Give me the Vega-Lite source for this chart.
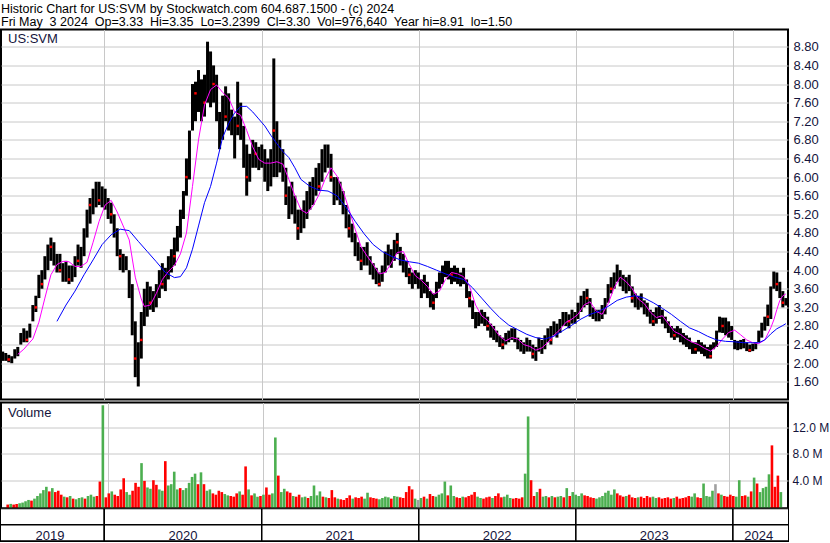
{
"$schema":"https://vega.github.io/schema/vega-lite/v6.json",
"autosize":{"type":"pad"},
"padding":{"top":2.5,"left":0,"right":0,"bottom":0},
"background":"white",
"title":{"text":["Historic Chart for US:SVM by Stockwatch.com 604.687.1500 - (c) 2024","Fri May\u00a0 3 2024\u00a0 Op=3.33\u00a0 Hi=3.35\u00a0 Lo=3.2399\u00a0 Cl=3.30\u00a0 Vol=976,640\u00a0 Year hi=8.91\u00a0 lo=1.50"],"anchor":"start","font":"Liberation Sans","fontSize":12.5,"fontWeight":"normal","color":"black","lineHeight":13.3,"offset":-0.5,"dx":1},
"datasets":{
"px":[
{"d":"2019-05-10","l":2.05,"h":2.25,"v":0.3,"s":"r"},
{"d":"2019-05-17","l":2.05,"h":2.22,"v":0.4,"s":"g"},
{"d":"2019-05-24","l":2.02,"h":2.18,"v":0.3,"s":"r","r":2.08},
{"d":"2019-05-31","l":2.00,"h":2.15,"v":0.4,"s":"r"},
{"d":"2019-06-07","l":2.10,"h":2.30,"v":0.5,"s":"g"},
{"d":"2019-06-14","l":2.15,"h":2.35,"v":0.6,"s":"g"},
{"d":"2019-06-21","l":2.40,"h":2.65,"v":0.8,"s":"g"},
{"d":"2019-06-28","l":2.45,"h":2.75,"v":1.0,"s":"g"},
{"d":"2019-07-05","l":2.45,"h":2.70,"v":0.9,"s":"r","r":2.5},
{"d":"2019-07-12","l":2.55,"h":2.85,"v":1.2,"s":"g"},
{"d":"2019-07-19","l":2.90,"h":3.25,"v":1.6,"s":"g"},
{"d":"2019-07-26","l":3.10,"h":3.45,"v":2.0,"s":"g","r":3.2},
{"d":"2019-08-02","l":3.40,"h":3.90,"v":2.5,"s":"g"},
{"d":"2019-08-09","l":3.60,"h":4.00,"v":3.0,"s":"g","r":3.7},
{"d":"2019-08-16","l":3.80,"h":4.30,"v":2.3,"s":"r"},
{"d":"2019-08-23","l":4.00,"h":4.55,"v":2.8,"s":"g"},
{"d":"2019-08-30","l":4.20,"h":4.70,"v":2.2,"s":"r","r":4.5},
{"d":"2019-09-06","l":4.10,"h":4.60,"v":2.4,"s":"r"},
{"d":"2019-09-13","l":3.95,"h":4.35,"v":1.8,"s":"r"},
{"d":"2019-09-20","l":3.95,"h":4.35,"v":1.5,"s":"g","r":4.0},
{"d":"2019-09-27","l":3.75,"h":4.15,"v":1.4,"s":"r"},
{"d":"2019-10-04","l":3.75,"h":4.20,"v":1.6,"s":"g"},
{"d":"2019-10-11","l":3.70,"h":4.10,"v":1.2,"s":"r","r":3.8},
{"d":"2019-10-18","l":3.75,"h":4.10,"v":1.1,"s":"g"},
{"d":"2019-10-25","l":3.85,"h":4.30,"v":1.3,"s":"g"},
{"d":"2019-11-01","l":4.10,"h":4.55,"v":1.4,"s":"g","r":4.2},
{"d":"2019-11-08","l":4.05,"h":4.50,"v":1.2,"s":"r"},
{"d":"2019-11-15","l":4.30,"h":4.90,"v":1.6,"s":"g"},
{"d":"2019-11-22","l":4.70,"h":5.30,"v":1.8,"s":"g"},
{"d":"2019-11-29","l":5.00,"h":5.55,"v":1.5,"s":"g","r":5.4},
{"d":"2019-12-06","l":5.20,"h":5.75,"v":1.6,"s":"r"},
{"d":"2019-12-13","l":5.35,"h":5.90,"v":3.8,"s":"r"},
{"d":"2019-12-20","l":5.40,"h":5.90,"v":15.4,"s":"g","r":5.5},
{"d":"2019-12-27","l":5.35,"h":5.80,"v":1.4,"s":"r"},
{"d":"2020-01-03","l":5.30,"h":5.75,"v":2.0,"s":"r"},
{"d":"2020-01-10","l":5.10,"h":5.55,"v":2.3,"s":"g"},
{"d":"2020-01-17","l":5.00,"h":5.45,"v":1.8,"s":"r","r":5.2},
{"d":"2020-01-24","l":4.70,"h":5.20,"v":1.6,"s":"r"},
{"d":"2020-01-31","l":4.30,"h":4.90,"v":2.6,"s":"r"},
{"d":"2020-02-07","l":4.00,"h":4.45,"v":4.3,"s":"r","r":4.3},
{"d":"2020-02-14","l":3.95,"h":4.35,"v":2.2,"s":"g"},
{"d":"2020-02-21","l":4.00,"h":4.30,"v":1.8,"s":"g"},
{"d":"2020-02-28","l":3.40,"h":4.00,"v":2.4,"s":"r"},
{"d":"2020-03-06","l":2.60,"h":3.70,"v":3.6,"s":"r"},
{"d":"2020-03-13","l":1.70,"h":2.90,"v":3.0,"s":"r","r":2.1},
{"d":"2020-03-20","l":1.50,"h":2.45,"v":6.6,"s":"g"},
{"d":"2020-03-27","l":2.10,"h":3.10,"v":3.9,"s":"r","r":2.5},
{"d":"2020-04-03","l":2.80,"h":3.60,"v":2.9,"s":"g"},
{"d":"2020-04-10","l":3.00,"h":3.75,"v":2.7,"s":"g"},
{"d":"2020-04-17","l":3.15,"h":3.65,"v":4.0,"s":"r","r":3.3},
{"d":"2020-04-24","l":3.10,"h":3.55,"v":3.3,"s":"r"},
{"d":"2020-05-01","l":3.20,"h":3.70,"v":2.6,"s":"g"},
{"d":"2020-05-08","l":3.40,"h":4.00,"v":2.4,"s":"g"},
{"d":"2020-05-15","l":3.60,"h":4.15,"v":6.9,"s":"r","r":3.7},
{"d":"2020-05-22","l":3.55,"h":4.05,"v":3.2,"s":"g"},
{"d":"2020-05-29","l":3.80,"h":4.30,"v":3.4,"s":"g"},
{"d":"2020-06-05","l":3.95,"h":4.45,"v":5.3,"s":"g"},
{"d":"2020-06-12","l":4.10,"h":4.70,"v":2.6,"s":"g","r":4.3},
{"d":"2020-06-19","l":4.40,"h":4.95,"v":2.8,"s":"r"},
{"d":"2020-06-26","l":4.70,"h":5.30,"v":2.5,"s":"g"},
{"d":"2020-07-03","l":5.10,"h":5.70,"v":2.8,"s":"g"},
{"d":"2020-07-10","l":5.60,"h":6.40,"v":3.6,"s":"g","r":6.0},
{"d":"2020-07-17","l":5.95,"h":7.00,"v":4.5,"s":"g"},
{"d":"2020-07-24","l":7.00,"h":8.00,"v":5.0,"s":"g"},
{"d":"2020-07-31","l":7.20,"h":8.05,"v":3.4,"s":"r","r":7.8},
{"d":"2020-08-07","l":7.40,"h":8.30,"v":5.2,"s":"g"},
{"d":"2020-08-14","l":7.20,"h":8.10,"v":3.4,"s":"r"},
{"d":"2020-08-21","l":7.30,"h":8.20,"v":2.4,"s":"g","r":7.6},
{"d":"2020-08-28","l":7.60,"h":8.91,"v":2.6,"s":"g"},
{"d":"2020-09-04","l":7.50,"h":8.70,"v":2.0,"s":"r"},
{"d":"2020-09-11","l":7.60,"h":8.40,"v":1.8,"s":"r","r":8.0},
{"d":"2020-09-18","l":7.20,"h":8.20,"v":2.4,"s":"r"},
{"d":"2020-09-25","l":6.60,"h":7.40,"v":2.2,"s":"r"},
{"d":"2020-10-02","l":6.80,"h":7.75,"v":1.9,"s":"g"},
{"d":"2020-10-09","l":7.20,"h":7.95,"v":1.7,"s":"g","r":7.3},
{"d":"2020-10-16","l":7.00,"h":7.80,"v":1.6,"s":"r"},
{"d":"2020-10-23","l":6.90,"h":7.45,"v":1.5,"s":"r"},
{"d":"2020-10-30","l":6.40,"h":7.30,"v":2.0,"s":"r"},
{"d":"2020-11-06","l":6.90,"h":8.05,"v":2.3,"s":"g","r":7.1},
{"d":"2020-11-13","l":6.80,"h":7.60,"v":1.8,"s":"r"},
{"d":"2020-11-20","l":6.20,"h":7.10,"v":6.1,"s":"r"},
{"d":"2020-11-27","l":5.60,"h":6.70,"v":2.6,"s":"g","r":6.0},
{"d":"2020-12-04","l":5.90,"h":6.50,"v":1.7,"s":"r"},
{"d":"2020-12-11","l":6.20,"h":6.80,"v":2.0,"s":"g"},
{"d":"2020-12-18","l":6.20,"h":6.75,"v":1.5,"s":"g","r":6.5},
{"d":"2020-12-25","l":6.15,"h":6.65,"v":1.6,"s":"r"},
{"d":"2021-01-01","l":6.20,"h":6.70,"v":1.8,"s":"g"},
{"d":"2021-01-08","l":5.90,"h":6.60,"v":2.9,"s":"r"},
{"d":"2021-01-15","l":5.70,"h":6.40,"v":1.8,"s":"r"},
{"d":"2021-01-22","l":5.80,"h":6.60,"v":2.0,"s":"g"},
{"d":"2021-01-29","l":6.00,"h":8.55,"v":10.5,"s":"g","r":7.0},
{"d":"2021-02-05","l":6.00,"h":7.20,"v":4.7,"s":"r"},
{"d":"2021-02-12","l":6.10,"h":6.80,"v":2.2,"s":"g"},
{"d":"2021-02-19","l":5.90,"h":6.60,"v":2.7,"s":"g"},
{"d":"2021-02-26","l":5.40,"h":6.20,"v":2.3,"s":"r","r":5.6},
{"d":"2021-03-05","l":5.10,"h":5.80,"v":2.1,"s":"r"},
{"d":"2021-03-12","l":5.20,"h":5.90,"v":1.6,"s":"g"},
{"d":"2021-03-19","l":5.00,"h":5.60,"v":1.5,"s":"r"},
{"d":"2021-03-26","l":4.65,"h":5.30,"v":1.8,"s":"r","r":4.9},
{"d":"2021-04-02","l":4.80,"h":5.30,"v":1.4,"s":"g"},
{"d":"2021-04-09","l":4.90,"h":5.50,"v":1.5,"s":"g"},
{"d":"2021-04-16","l":5.10,"h":5.70,"v":1.3,"s":"r"},
{"d":"2021-04-23","l":5.30,"h":5.90,"v":1.6,"s":"g"},
{"d":"2021-04-30","l":5.40,"h":6.00,"v":3.2,"s":"g"},
{"d":"2021-05-07","l":5.60,"h":6.20,"v":1.7,"s":"g"},
{"d":"2021-05-14","l":5.70,"h":6.30,"v":2.3,"s":"g","r":5.8},
{"d":"2021-05-21","l":5.90,"h":6.60,"v":1.5,"s":"r"},
{"d":"2021-05-28","l":6.10,"h":6.70,"v":1.4,"s":"g"},
{"d":"2021-06-04","l":6.20,"h":6.70,"v":1.3,"s":"r"},
{"d":"2021-06-11","l":5.90,"h":6.50,"v":2.5,"s":"r","r":6.0},
{"d":"2021-06-18","l":5.40,"h":6.00,"v":1.4,"s":"r"},
{"d":"2021-06-25","l":5.50,"h":6.00,"v":1.2,"s":"g"},
{"d":"2021-07-02","l":5.40,"h":5.90,"v":1.1,"s":"r"},
{"d":"2021-07-09","l":5.20,"h":5.70,"v":1.0,"s":"r"},
{"d":"2021-07-16","l":4.90,"h":5.40,"v":1.3,"s":"r"},
{"d":"2021-07-23","l":4.70,"h":5.20,"v":1.7,"s":"r","r":4.9},
{"d":"2021-07-30","l":4.60,"h":5.00,"v":1.2,"s":"g"},
{"d":"2021-08-06","l":4.30,"h":4.80,"v":1.4,"s":"r"},
{"d":"2021-08-13","l":4.20,"h":4.60,"v":1.3,"s":"r"},
{"d":"2021-08-20","l":4.00,"h":4.50,"v":1.5,"s":"r","r":4.2},
{"d":"2021-08-27","l":4.10,"h":4.50,"v":1.2,"s":"g"},
{"d":"2021-09-03","l":4.10,"h":4.60,"v":2.1,"s":"g"},
{"d":"2021-09-10","l":3.90,"h":4.30,"v":1.4,"s":"r"},
{"d":"2021-09-17","l":3.80,"h":4.15,"v":1.3,"s":"r"},
{"d":"2021-09-24","l":3.70,"h":4.05,"v":1.2,"s":"r"},
{"d":"2021-10-01","l":3.65,"h":3.95,"v":1.1,"s":"g","r":3.7},
{"d":"2021-10-08","l":3.75,"h":4.10,"v":1.3,"s":"g"},
{"d":"2021-10-15","l":3.95,"h":4.40,"v":1.5,"s":"g"},
{"d":"2021-10-22","l":4.10,"h":4.55,"v":1.4,"s":"g"},
{"d":"2021-10-29","l":4.05,"h":4.45,"v":1.2,"s":"r"},
{"d":"2021-11-05","l":4.20,"h":4.65,"v":1.6,"s":"g"},
{"d":"2021-11-12","l":4.35,"h":4.80,"v":1.5,"s":"g","r":4.6},
{"d":"2021-11-19","l":4.10,"h":4.50,"v":1.4,"s":"r"},
{"d":"2021-11-26","l":3.95,"h":4.35,"v":1.3,"s":"r"},
{"d":"2021-12-03","l":3.85,"h":4.20,"v":2.2,"s":"r"},
{"d":"2021-12-10","l":3.70,"h":4.05,"v":3.1,"s":"r","r":3.9},
{"d":"2021-12-17","l":3.60,"h":3.95,"v":2.6,"s":"r"},
{"d":"2021-12-24","l":3.70,"h":4.00,"v":1.2,"s":"g"},
{"d":"2021-12-31","l":3.60,"h":3.95,"v":1.0,"s":"n"},
{"d":"2022-01-07","l":3.40,"h":3.80,"v":1.3,"s":"g"},
{"d":"2022-01-14","l":3.50,"h":3.90,"v":1.5,"s":"r"},
{"d":"2022-01-21","l":3.40,"h":3.75,"v":1.2,"s":"g"},
{"d":"2022-01-28","l":3.20,"h":3.55,"v":1.9,"s":"r"},
{"d":"2022-02-04","l":3.15,"h":3.50,"v":1.6,"s":"r","r":3.3},
{"d":"2022-02-11","l":3.40,"h":3.75,"v":1.5,"s":"g"},
{"d":"2022-02-18","l":3.60,"h":3.95,"v":1.8,"s":"g"},
{"d":"2022-02-25","l":3.70,"h":4.10,"v":2.0,"s":"g"},
{"d":"2022-03-04","l":3.85,"h":4.20,"v":3.8,"s":"g"},
{"d":"2022-03-11","l":3.80,"h":4.20,"v":1.7,"s":"r"},
{"d":"2022-03-18","l":3.70,"h":4.05,"v":3.2,"s":"g","r":3.9},
{"d":"2022-03-25","l":3.75,"h":4.10,"v":1.6,"s":"g"},
{"d":"2022-04-01","l":3.70,"h":4.05,"v":1.4,"s":"r"},
{"d":"2022-04-08","l":3.65,"h":3.95,"v":1.3,"s":"r"},
{"d":"2022-04-15","l":3.70,"h":4.05,"v":1.5,"s":"g"},
{"d":"2022-04-22","l":3.40,"h":3.80,"v":1.4,"s":"r"},
{"d":"2022-04-29","l":3.20,"h":3.55,"v":1.6,"s":"r","r":3.4},
{"d":"2022-05-06","l":2.95,"h":3.35,"v":1.8,"s":"r"},
{"d":"2022-05-13","l":2.75,"h":3.10,"v":2.2,"s":"r"},
{"d":"2022-05-20","l":2.80,"h":3.10,"v":1.5,"s":"g"},
{"d":"2022-05-27","l":2.85,"h":3.15,"v":1.3,"s":"g"},
{"d":"2022-06-03","l":2.80,"h":3.10,"v":1.2,"s":"r"},
{"d":"2022-06-10","l":2.70,"h":3.00,"v":1.4,"s":"r","r":2.8},
{"d":"2022-06-17","l":2.55,"h":2.85,"v":1.5,"s":"r"},
{"d":"2022-06-24","l":2.50,"h":2.80,"v":1.3,"s":"g"},
{"d":"2022-07-01","l":2.45,"h":2.70,"v":1.6,"s":"r"},
{"d":"2022-07-08","l":2.35,"h":2.60,"v":2.0,"s":"r"},
{"d":"2022-07-15","l":2.30,"h":2.55,"v":1.4,"s":"r","r":2.4},
{"d":"2022-07-22","l":2.40,"h":2.65,"v":1.5,"s":"g"},
{"d":"2022-07-29","l":2.45,"h":2.70,"v":1.8,"s":"g"},
{"d":"2022-08-05","l":2.50,"h":2.75,"v":1.3,"s":"g"},
{"d":"2022-08-12","l":2.45,"h":2.75,"v":1.2,"s":"r"},
{"d":"2022-08-19","l":2.30,"h":2.55,"v":1.3,"s":"r"},
{"d":"2022-08-26","l":2.25,"h":2.50,"v":1.2,"s":"r"},
{"d":"2022-09-02","l":2.20,"h":2.45,"v":1.4,"s":"r"},
{"d":"2022-09-09","l":2.25,"h":2.55,"v":5.0,"s":"g"},
{"d":"2022-09-16","l":2.25,"h":2.50,"v":13.7,"s":"g"},
{"d":"2022-09-23","l":2.10,"h":2.40,"v":4.0,"s":"r","r":2.2},
{"d":"2022-09-30","l":2.05,"h":2.35,"v":1.6,"s":"r"},
{"d":"2022-10-07","l":2.25,"h":2.55,"v":2.2,"s":"g"},
{"d":"2022-10-14","l":2.20,"h":2.50,"v":2.7,"s":"r"},
{"d":"2022-10-21","l":2.30,"h":2.60,"v":1.5,"s":"g"},
{"d":"2022-10-28","l":2.45,"h":2.75,"v":1.6,"s":"g"},
{"d":"2022-11-04","l":2.40,"h":2.80,"v":1.4,"s":"r","r":2.5},
{"d":"2022-11-11","l":2.60,"h":2.90,"v":1.6,"s":"g"},
{"d":"2022-11-18","l":2.55,"h":2.85,"v":1.4,"s":"r"},
{"d":"2022-11-25","l":2.65,"h":2.95,"v":1.5,"s":"g"},
{"d":"2022-12-02","l":2.80,"h":3.10,"v":1.6,"s":"g"},
{"d":"2022-12-09","l":2.80,"h":3.10,"v":1.4,"s":"r"},
{"d":"2022-12-16","l":2.75,"h":3.05,"v":2.8,"s":"g","r":2.9},
{"d":"2022-12-23","l":2.85,"h":3.15,"v":1.6,"s":"r"},
{"d":"2022-12-30","l":2.85,"h":3.10,"v":2.2,"s":"g"},
{"d":"2023-01-06","l":2.95,"h":3.30,"v":1.8,"s":"g"},
{"d":"2023-01-13","l":3.10,"h":3.45,"v":1.6,"s":"g"},
{"d":"2023-01-20","l":3.20,"h":3.55,"v":2.0,"s":"g"},
{"d":"2023-01-27","l":3.25,"h":3.60,"v":1.7,"s":"r","r":3.4},
{"d":"2023-02-03","l":3.00,"h":3.40,"v":1.6,"s":"r"},
{"d":"2023-02-10","l":2.95,"h":3.20,"v":1.4,"s":"r"},
{"d":"2023-02-17","l":2.90,"h":3.15,"v":1.3,"s":"r"},
{"d":"2023-02-24","l":2.90,"h":3.15,"v":1.2,"s":"g"},
{"d":"2023-03-03","l":2.95,"h":3.25,"v":1.4,"s":"g"},
{"d":"2023-03-10","l":3.05,"h":3.40,"v":1.6,"s":"g"},
{"d":"2023-03-17","l":3.30,"h":3.70,"v":2.1,"s":"g"},
{"d":"2023-03-24","l":3.50,"h":3.85,"v":2.4,"s":"g","r":3.6},
{"d":"2023-03-31","l":3.60,"h":3.95,"v":1.8,"s":"g"},
{"d":"2023-04-07","l":3.75,"h":4.12,"v":2.6,"s":"g"},
{"d":"2023-04-14","l":3.65,"h":4.00,"v":2.0,"s":"r"},
{"d":"2023-04-21","l":3.55,"h":3.90,"v":1.7,"s":"r"},
{"d":"2023-04-28","l":3.50,"h":3.85,"v":1.5,"s":"r"},
{"d":"2023-05-05","l":3.55,"h":3.90,"v":1.6,"s":"g"},
{"d":"2023-05-12","l":3.30,"h":3.65,"v":1.8,"s":"r","r":3.4},
{"d":"2023-05-19","l":3.20,"h":3.50,"v":1.4,"s":"r"},
{"d":"2023-05-26","l":3.15,"h":3.45,"v":1.3,"s":"r"},
{"d":"2023-06-02","l":3.20,"h":3.50,"v":1.4,"s":"g"},
{"d":"2023-06-09","l":3.05,"h":3.35,"v":1.5,"s":"r"},
{"d":"2023-06-16","l":3.00,"h":3.30,"v":1.3,"s":"r"},
{"d":"2023-06-23","l":2.85,"h":3.15,"v":1.6,"s":"r"},
{"d":"2023-06-30","l":2.80,"h":3.10,"v":1.4,"s":"r","r":2.9},
{"d":"2023-07-07","l":2.85,"h":3.20,"v":1.5,"s":"g"},
{"d":"2023-07-14","l":2.95,"h":3.25,"v":1.3,"s":"g"},
{"d":"2023-07-21","l":2.85,"h":3.15,"v":1.4,"s":"r"},
{"d":"2023-07-28","l":2.75,"h":3.00,"v":1.2,"s":"r"},
{"d":"2023-08-04","l":2.65,"h":2.90,"v":1.3,"s":"r"},
{"d":"2023-08-11","l":2.55,"h":2.80,"v":1.4,"s":"r"},
{"d":"2023-08-18","l":2.50,"h":2.75,"v":1.2,"s":"r","r":2.6},
{"d":"2023-08-25","l":2.55,"h":2.80,"v":1.3,"s":"g"},
{"d":"2023-09-01","l":2.45,"h":2.75,"v":1.5,"s":"r"},
{"d":"2023-09-08","l":2.40,"h":2.65,"v":1.2,"s":"r"},
{"d":"2023-09-15","l":2.35,"h":2.60,"v":1.3,"s":"r"},
{"d":"2023-09-22","l":2.30,"h":2.55,"v":1.4,"s":"r"},
{"d":"2023-09-29","l":2.20,"h":2.45,"v":1.6,"s":"r"},
{"d":"2023-10-06","l":2.20,"h":2.45,"v":1.5,"s":"g","r":2.3},
{"d":"2023-10-13","l":2.25,"h":2.50,"v":2.0,"s":"g"},
{"d":"2023-10-20","l":2.20,"h":2.45,"v":1.4,"s":"r"},
{"d":"2023-10-27","l":2.15,"h":2.40,"v":1.3,"s":"r"},
{"d":"2023-11-03","l":2.10,"h":2.35,"v":3.5,"s":"g"},
{"d":"2023-11-10","l":2.10,"h":2.40,"v":1.6,"s":"g","r":2.15},
{"d":"2023-11-17","l":2.30,"h":2.45,"v":1.5,"s":"g"},
{"d":"2023-11-24","l":2.35,"h":2.70,"v":2.4,"s":"g"},
{"d":"2023-12-01","l":2.66,"h":3.00,"v":3.4,"s":"n"},
{"d":"2023-12-08","l":2.65,"h":2.98,"v":2.0,"s":"r","r":2.8},
{"d":"2023-12-15","l":2.60,"h":2.98,"v":1.8,"s":"g"},
{"d":"2023-12-22","l":2.55,"h":2.90,"v":1.6,"s":"r"},
{"d":"2023-12-29","l":2.50,"h":2.80,"v":1.5,"s":"r"},
{"d":"2024-01-05","l":2.30,"h":2.50,"v":1.8,"s":"r"},
{"d":"2024-01-12","l":2.28,"h":2.48,"v":1.6,"s":"r"},
{"d":"2024-01-19","l":2.30,"h":2.50,"v":1.5,"s":"g"},
{"d":"2024-01-26","l":2.32,"h":2.52,"v":4.0,"s":"g"},
{"d":"2024-02-02","l":2.26,"h":2.45,"v":1.6,"s":"r"},
{"d":"2024-02-09","l":2.24,"h":2.40,"v":1.7,"s":"r","r":2.28},
{"d":"2024-02-16","l":2.26,"h":2.42,"v":1.5,"s":"g"},
{"d":"2024-02-23","l":2.30,"h":2.45,"v":2.3,"s":"r"},
{"d":"2024-03-01","l":2.45,"h":2.70,"v":4.4,"s":"g"},
{"d":"2024-03-08","l":2.55,"h":2.87,"v":3.5,"s":"r"},
{"d":"2024-03-15","l":2.70,"h":3.00,"v":2.2,"s":"g"},
{"d":"2024-03-22","l":2.80,"h":3.26,"v":2.8,"s":"g","r":3.0},
{"d":"2024-03-29","l":2.95,"h":3.65,"v":3.0,"s":"g"},
{"d":"2024-04-05","l":3.60,"h":3.97,"v":4.9,"s":"g"},
{"d":"2024-04-12","l":3.55,"h":3.95,"v":9.3,"s":"r","r":3.7},
{"d":"2024-04-19","l":3.40,"h":3.75,"v":3.0,"s":"r"},
{"d":"2024-04-26","l":3.20,"h":3.55,"v":4.7,"s":"r","r":3.3},
{"d":"2024-05-03","l":3.24,"h":3.40,"v":2.2,"s":"g"}
],
"ma1":[
{"d":"2019-06-14","m":2.19},{"d":"2019-06-28","m":2.30},{"d":"2019-07-12","m":2.45},{"d":"2019-07-19","m":2.52},{"d":"2019-08-02","m":2.88},{"d":"2019-08-16","m":3.40},{"d":"2019-08-30","m":3.90},{"d":"2019-09-13","m":4.12},{"d":"2019-09-27","m":4.19},{"d":"2019-10-11","m":4.18},{"d":"2019-10-25","m":4.08},{"d":"2019-11-08","m":4.08},{"d":"2019-11-22","m":4.17},{"d":"2019-12-06","m":4.60},{"d":"2019-12-20","m":5.05},
{"d":"2020-01-03","m":5.40},{"d":"2020-01-17","m":5.50},{"d":"2020-01-31","m":5.25},{"d":"2020-02-14","m":4.95},{"d":"2020-02-28","m":4.65},{"d":"2020-03-13","m":3.85},{"d":"2020-03-27","m":3.38},{"d":"2020-04-03","m":3.22},{"d":"2020-04-17","m":3.25},{"d":"2020-05-01","m":3.50},{"d":"2020-05-15","m":3.80},{"d":"2020-05-29","m":3.97},{"d":"2020-06-12","m":4.10},{"d":"2020-06-26","m":4.35},{"d":"2020-07-10","m":4.80},{"d":"2020-07-24","m":5.80},{"d":"2020-08-07","m":6.80},{"d":"2020-08-21","m":7.55},{"d":"2020-09-04","m":7.88},{"d":"2020-09-18","m":7.98},{"d":"2020-10-02","m":7.82},{"d":"2020-10-16","m":7.70},{"d":"2020-10-30","m":7.40},{"d":"2020-11-13","m":7.33},{"d":"2020-11-27","m":7.00},{"d":"2020-12-11","m":6.65},{"d":"2020-12-25","m":6.38},
{"d":"2021-01-08","m":6.30},{"d":"2021-01-22","m":6.30},{"d":"2021-02-05","m":6.33},{"d":"2021-02-19","m":6.28},{"d":"2021-03-05","m":5.95},{"d":"2021-03-19","m":5.60},{"d":"2021-04-02","m":5.30},{"d":"2021-04-16","m":5.22},{"d":"2021-04-30","m":5.38},{"d":"2021-05-14","m":5.62},{"d":"2021-05-28","m":5.95},{"d":"2021-06-11","m":6.20},{"d":"2021-06-25","m":6.02},{"d":"2021-07-09","m":5.70},{"d":"2021-07-23","m":5.30},{"d":"2021-08-06","m":4.88},{"d":"2021-08-20","m":4.50},{"d":"2021-09-03","m":4.30},{"d":"2021-09-17","m":4.12},{"d":"2021-10-01","m":3.92},{"d":"2021-10-15","m":3.95},{"d":"2021-10-29","m":4.15},{"d":"2021-11-12","m":4.38},{"d":"2021-11-26","m":4.40},{"d":"2021-12-10","m":4.12},{"d":"2021-12-24","m":3.88},
{"d":"2022-01-07","m":3.78},{"d":"2022-01-21","m":3.65},{"d":"2022-02-04","m":3.48},{"d":"2022-02-18","m":3.55},{"d":"2022-03-04","m":3.80},{"d":"2022-03-18","m":3.95},{"d":"2022-04-01","m":3.92},{"d":"2022-04-15","m":3.86},{"d":"2022-04-29","m":3.65},{"d":"2022-05-13","m":3.25},{"d":"2022-05-27","m":3.02},{"d":"2022-06-10","m":2.92},{"d":"2022-06-24","m":2.75},{"d":"2022-07-08","m":2.58},{"d":"2022-07-22","m":2.48},{"d":"2022-08-05","m":2.55},{"d":"2022-08-19","m":2.52},{"d":"2022-09-02","m":2.40},{"d":"2022-09-16","m":2.36},{"d":"2022-09-30","m":2.28},{"d":"2022-10-14","m":2.33},{"d":"2022-10-28","m":2.45},{"d":"2022-11-11","m":2.60},{"d":"2022-11-25","m":2.72},{"d":"2022-12-09","m":2.88},{"d":"2022-12-23","m":2.95},
{"d":"2023-01-06","m":3.05},{"d":"2023-01-20","m":3.25},{"d":"2023-02-03","m":3.32},{"d":"2023-02-17","m":3.12},{"d":"2023-03-03","m":3.05},{"d":"2023-03-17","m":3.28},{"d":"2023-03-31","m":3.62},{"d":"2023-04-14","m":3.85},{"d":"2023-04-28","m":3.75},{"d":"2023-05-12","m":3.60},{"d":"2023-05-26","m":3.38},{"d":"2023-06-09","m":3.28},{"d":"2023-06-23","m":3.10},{"d":"2023-07-07","m":2.98},{"d":"2023-07-21","m":3.02},{"d":"2023-08-04","m":2.85},{"d":"2023-08-18","m":2.68},{"d":"2023-09-01","m":2.62},{"d":"2023-09-15","m":2.52},{"d":"2023-09-29","m":2.45},{"d":"2023-10-13","m":2.40},{"d":"2023-10-27","m":2.32},{"d":"2023-11-10","m":2.26},{"d":"2023-11-24","m":2.36},{"d":"2023-12-08","m":2.52},{"d":"2023-12-22","m":2.66},
{"d":"2024-01-05","m":2.71},{"d":"2024-01-19","m":2.61},{"d":"2024-02-02","m":2.50},{"d":"2024-02-16","m":2.44},{"d":"2024-03-01","m":2.42},{"d":"2024-03-15","m":2.50},{"d":"2024-03-29","m":2.76},{"d":"2024-04-05","m":2.93},{"d":"2024-04-12","m":3.15},{"d":"2024-04-19","m":3.35},{"d":"2024-04-26","m":3.45},{"d":"2024-05-03","m":3.49}
],
"ma2":[
{"d":"2019-09-13","m":2.90},{"d":"2019-10-04","m":3.25},{"d":"2019-10-25","m":3.55},{"d":"2019-11-15","m":3.90},{"d":"2019-12-06","m":4.22},{"d":"2019-12-27","m":4.55},
{"d":"2020-01-17","m":4.76},{"d":"2020-02-07","m":4.88},{"d":"2020-02-28","m":4.85},{"d":"2020-03-20","m":4.62},{"d":"2020-04-10","m":4.40},{"d":"2020-05-01","m":4.18},{"d":"2020-05-22","m":3.95},{"d":"2020-06-12","m":3.84},{"d":"2020-06-26","m":3.86},{"d":"2020-07-10","m":4.05},{"d":"2020-07-24","m":4.45},{"d":"2020-08-07","m":4.95},{"d":"2020-08-21","m":5.45},{"d":"2020-09-04","m":5.80},{"d":"2020-09-18","m":6.30},{"d":"2020-10-02","m":6.85},{"d":"2020-10-16","m":7.15},{"d":"2020-10-30","m":7.38},{"d":"2020-11-13","m":7.52},{"d":"2020-11-27","m":7.52},{"d":"2020-12-11","m":7.40},{"d":"2020-12-25","m":7.25},
{"d":"2021-01-08","m":7.10},{"d":"2021-01-22","m":6.90},{"d":"2021-02-05","m":6.72},{"d":"2021-02-19","m":6.55},{"d":"2021-03-05","m":6.42},{"d":"2021-03-19","m":6.20},{"d":"2021-04-02","m":5.95},{"d":"2021-04-23","m":5.80},{"d":"2021-05-14","m":5.72},{"d":"2021-06-04","m":5.70},{"d":"2021-06-25","m":5.60},{"d":"2021-07-16","m":5.35},{"d":"2021-08-06","m":5.05},{"d":"2021-08-27","m":4.78},{"d":"2021-09-17","m":4.55},{"d":"2021-10-08","m":4.40},{"d":"2021-10-29","m":4.30},{"d":"2021-11-19","m":4.22},{"d":"2021-12-10","m":4.18},{"d":"2021-12-31","m":4.15},
{"d":"2022-01-21","m":4.08},{"d":"2022-02-11","m":4.00},{"d":"2022-03-04","m":3.92},{"d":"2022-03-25","m":3.85},{"d":"2022-04-15","m":3.80},{"d":"2022-05-06","m":3.62},{"d":"2022-05-27","m":3.40},{"d":"2022-06-17","m":3.18},{"d":"2022-07-08","m":2.98},{"d":"2022-07-29","m":2.82},{"d":"2022-08-19","m":2.72},{"d":"2022-09-09","m":2.62},{"d":"2022-09-30","m":2.55},{"d":"2022-10-21","m":2.52},{"d":"2022-11-11","m":2.58},{"d":"2022-12-02","m":2.70},{"d":"2022-12-23","m":2.82},
{"d":"2023-01-13","m":2.95},{"d":"2023-02-03","m":3.05},{"d":"2023-02-24","m":3.12},{"d":"2023-03-17","m":3.22},{"d":"2023-04-07","m":3.35},{"d":"2023-04-28","m":3.42},{"d":"2023-05-19","m":3.45},{"d":"2023-06-09","m":3.40},{"d":"2023-06-30","m":3.30},{"d":"2023-07-21","m":3.18},{"d":"2023-08-11","m":3.05},{"d":"2023-09-01","m":2.90},{"d":"2023-09-22","m":2.76},{"d":"2023-10-13","m":2.68},{"d":"2023-11-03","m":2.58},{"d":"2023-11-24","m":2.50},{"d":"2023-12-15","m":2.47},
{"d":"2024-01-05","m":2.46},{"d":"2024-01-26","m":2.44},{"d":"2024-02-16","m":2.44},{"d":"2024-03-01","m":2.44},{"d":"2024-03-15","m":2.50},{"d":"2024-03-29","m":2.63},{"d":"2024-04-12","m":2.74},{"d":"2024-04-26","m":2.81},{"d":"2024-05-03","m":2.85}
],
"yrs":[
{"yr":"2019","s":"2019-01-01","e":"2020-01-01","m":"2019-08-28"},
{"yr":"2020","s":"2020-01-01","e":"2021-01-01","m":"2020-07-02"},
{"yr":"2021","s":"2021-01-01","e":"2022-01-01","m":"2021-07-02"},
{"yr":"2022","s":"2022-01-01","e":"2023-01-01","m":"2022-07-02"},
{"yr":"2023","s":"2023-01-01","e":"2024-01-01","m":"2023-07-02"},
{"yr":"2024","s":"2024-01-01","e":"2025-01-01","m":"2024-03-01"}
]
},
"bounds":"flush",
"spacing":3,
"vconcat":[
{
"width":787,"height":370,
"title":{"text":"US:SVM","anchor":"start","offset":-26,"baseline":"alphabetic","dx":7,"font":"Liberation Sans","fontSize":13,"fontWeight":"normal","color":"#14143c"},
"layer":[
{"data":{"name":"px"},"mark":{"type":"rule","strokeWidth":3,"color":"black"},
"encoding":{
"x":{"field":"d","type":"temporal","scale":{"domain":[{"year":2019,"month":5,"date":6},{"year":2024,"month":5,"date":8}]},"axis":{"values":[{"year":2020,"month":1,"date":1},{"year":2021,"month":1,"date":1},{"year":2022,"month":1,"date":1},{"year":2023,"month":1,"date":1},{"year":2024,"month":1,"date":1}],"labels":false,"ticks":false,"domain":false,"grid":true,"title":null}},
"y":{"field":"l","type":"quantitative","scale":{"domain":[1.22,9.172],"nice":false,"zero":false},"axis":{"orient":"right","values":[1.6,2.0,2.4,2.8,3.2,3.6,4.0,4.4,4.8,5.2,5.6,6.0,6.4,6.8,7.2,7.6,8.0,8.4,8.8],"format":".2f","grid":true,"ticks":false,"domain":false,"labelPadding":5,"labelFontSize":13,"title":null}},
"y2":{"field":"h"}}},
{"data":{"name":"px"},"mark":{"type":"square","size":6,"filled":true,"color":"#ff0000","opacity":1},
"encoding":{
"x":{"field":"d","type":"temporal","scale":{"domain":[{"year":2019,"month":5,"date":6},{"year":2024,"month":5,"date":8}]},"axis":{"values":[{"year":2020,"month":1,"date":1},{"year":2021,"month":1,"date":1},{"year":2022,"month":1,"date":1},{"year":2023,"month":1,"date":1},{"year":2024,"month":1,"date":1}],"labels":false,"ticks":false,"domain":false,"grid":true,"title":null}},
"y":{"field":"r","type":"quantitative","scale":{"domain":[1.22,9.172],"nice":false,"zero":false},"axis":{"orient":"right","values":[1.6,2.0,2.4,2.8,3.2,3.6,4.0,4.4,4.8,5.2,5.6,6.0,6.4,6.8,7.2,7.6,8.0,8.4,8.8],"format":".2f","grid":true,"ticks":false,"domain":false,"labelPadding":5,"labelFontSize":13,"title":null}}}},
{"data":{"name":"ma1"},"mark":{"type":"line","color":"#ff00ff","strokeWidth":1},
"encoding":{
"x":{"field":"d","type":"temporal","scale":{"domain":[{"year":2019,"month":5,"date":6},{"year":2024,"month":5,"date":8}]},"axis":{"values":[{"year":2020,"month":1,"date":1},{"year":2021,"month":1,"date":1},{"year":2022,"month":1,"date":1},{"year":2023,"month":1,"date":1},{"year":2024,"month":1,"date":1}],"labels":false,"ticks":false,"domain":false,"grid":true,"title":null}},
"y":{"field":"m","type":"quantitative","scale":{"domain":[1.22,9.172],"nice":false,"zero":false},"axis":{"orient":"right","values":[1.6,2.0,2.4,2.8,3.2,3.6,4.0,4.4,4.8,5.2,5.6,6.0,6.4,6.8,7.2,7.6,8.0,8.4,8.8],"format":".2f","grid":true,"ticks":false,"domain":false,"labelPadding":5,"labelFontSize":13,"title":null}}}},
{"data":{"name":"ma2"},"mark":{"type":"line","color":"#0000ff","strokeWidth":1},
"encoding":{
"x":{"field":"d","type":"temporal","scale":{"domain":[{"year":2019,"month":5,"date":6},{"year":2024,"month":5,"date":8}]},"axis":{"values":[{"year":2020,"month":1,"date":1},{"year":2021,"month":1,"date":1},{"year":2022,"month":1,"date":1},{"year":2023,"month":1,"date":1},{"year":2024,"month":1,"date":1}],"labels":false,"ticks":false,"domain":false,"grid":true,"title":null}},
"y":{"field":"m","type":"quantitative","scale":{"domain":[1.22,9.172],"nice":false,"zero":false},"axis":{"orient":"right","values":[1.6,2.0,2.4,2.8,3.2,3.6,4.0,4.4,4.8,5.2,5.6,6.0,6.4,6.8,7.2,7.6,8.0,8.4,8.8],"format":".2f","grid":true,"ticks":false,"domain":false,"labelPadding":5,"labelFontSize":13,"title":null}}}}
]
},
{
"bounds":"flush",
"spacing":0,
"vconcat":[
{
"width":787,"height":106,
"title":{"text":"Volume","anchor":"start","offset":-27,"baseline":"alphabetic","dx":7,"font":"Liberation Sans","fontSize":13,"fontWeight":"normal","color":"#14143c"},
"data":{"name":"px"},
"mark":{"type":"bar","width":2.6},
"encoding":{
"x":{"field":"d","type":"temporal","scale":{"domain":[{"year":2019,"month":5,"date":6},{"year":2024,"month":5,"date":8}]},"axis":{"values":[{"year":2020,"month":1,"date":1},{"year":2021,"month":1,"date":1},{"year":2022,"month":1,"date":1},{"year":2023,"month":1,"date":1},{"year":2024,"month":1,"date":1}],"labels":false,"ticks":false,"domain":false,"grid":true,"title":null}},
"y":{"field":"v","type":"quantitative","scale":{"domain":[-0.3,15.82],"nice":false,"zero":false},"axis":{"orient":"right","values":[4,8,12],"labelExpr":"format(datum.value,'.1f') + ' M'","grid":true,"ticks":false,"domain":false,"labelPadding":4,"labelFontSize":12,"title":null}},
"y2":{"datum":-0.3},
"color":{"field":"s","type":"nominal","scale":{"domain":["g","r","n"],"range":["#4caf50","#ff0000","#a0a0a0"]},"legend":null}
}
},
{
"width":787,"height":32.5,
"data":{"name":"yrs"},
"layer":[
{"mark":{"type":"rect","fill":"white","stroke":"black","strokeWidth":1.5,"clip":true},
"encoding":{"x":{"field":"s","type":"temporal","scale":{"domain":[{"year":2019,"month":5,"date":6},{"year":2024,"month":5,"date":8}]},"axis":null},"x2":{"field":"e"},"y":{"datum":"a","type":"nominal","scale":{"type":"band","domain":["a","b"],"paddingInner":0,"paddingOuter":0},"axis":null}}},
{"mark":{"type":"rect","fill":"white","stroke":"black","strokeWidth":1.5,"clip":true},
"encoding":{"x":{"field":"s","type":"temporal"},"x2":{"field":"e"},"y":{"datum":"b","type":"nominal"}}},
{"mark":{"type":"text","font":"Liberation Sans","fontSize":13,"color":"#14143c","baseline":"middle","dy":3},
"encoding":{"x":{"field":"m","type":"temporal"},"y":{"datum":"b","type":"nominal"},"text":{"field":"yr"}}}
]
}
]
}
],
"config":{
"view":{"stroke":"black","strokeWidth":2},
"font":"Liberation Sans",
"axis":{"labelFont":"Liberation Sans","labelColor":"#14143c","gridColor":"#c8c8c8","gridWidth":1,"gridOpacity":1}
}
}
